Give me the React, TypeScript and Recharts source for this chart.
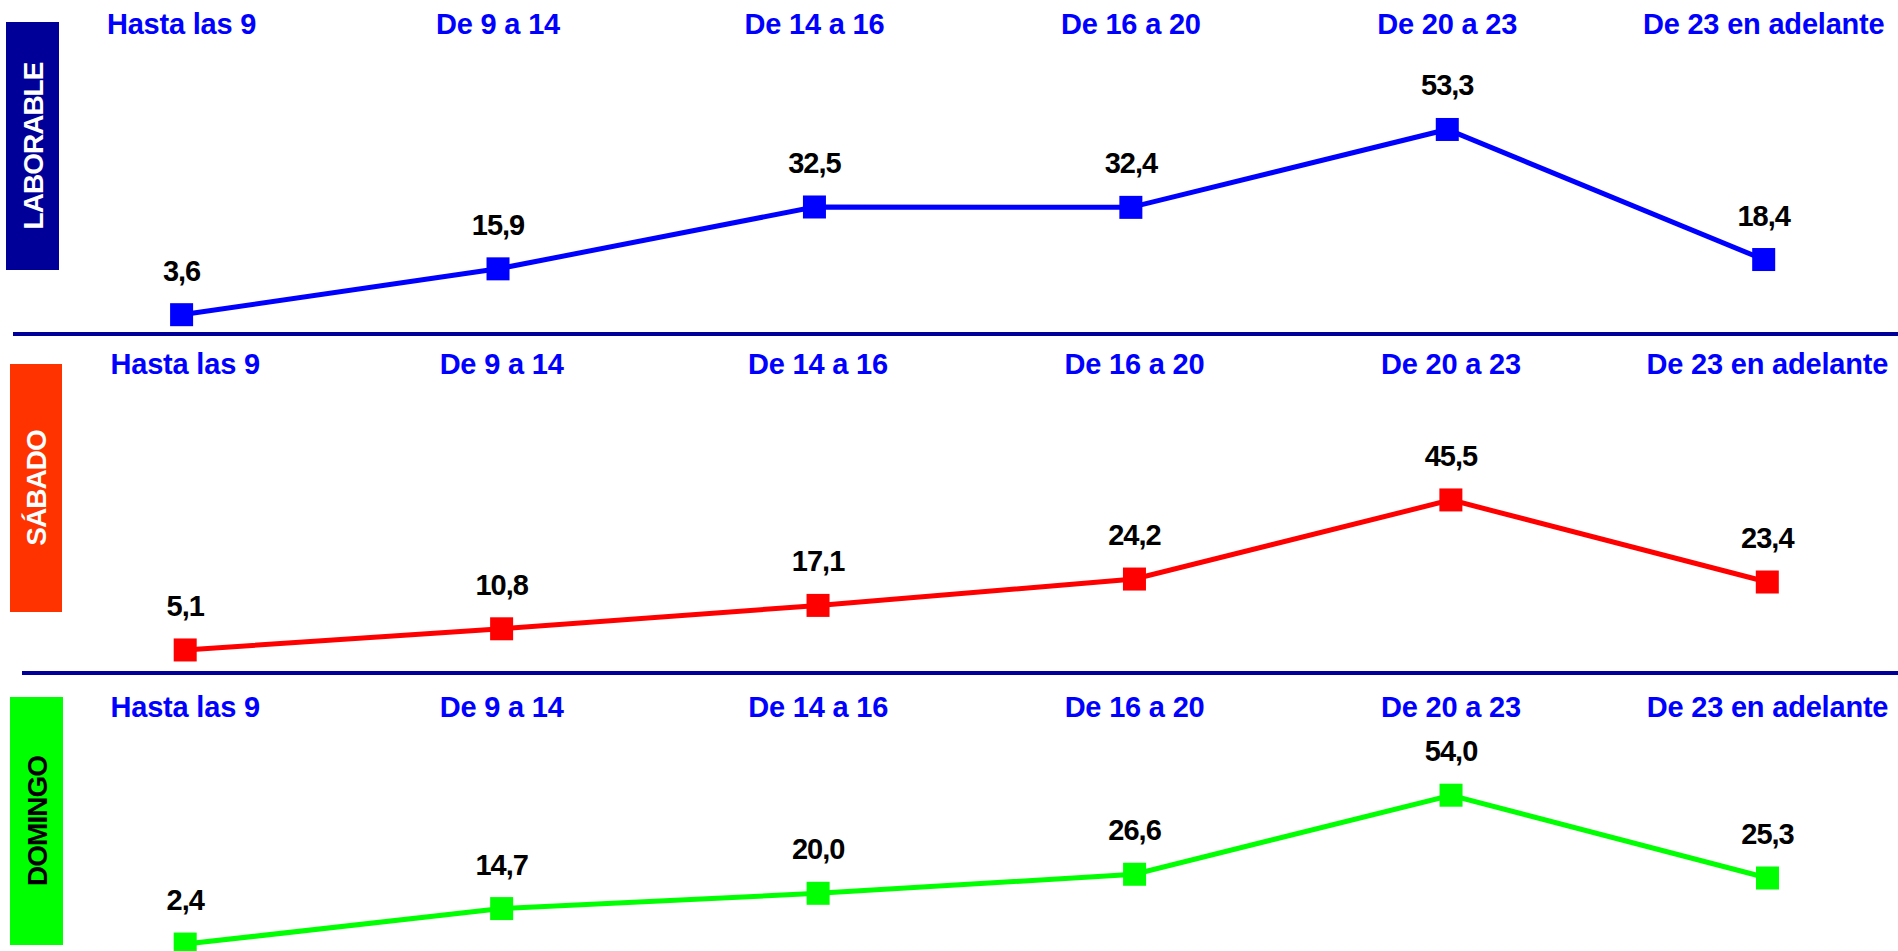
import React from 'react';
import { LineChart, Line, XAxis, YAxis, LabelList } from 'recharts';

const categories = ['Hasta las 9', 'De 9 a 14', 'De 14 a 16', 'De 16 a 20', 'De 20 a 23', 'De 23 en adelante'];
const laborable = [3.6, 15.9, 32.5, 32.4, 53.3, 18.4];
const sabado = [5.1, 10.8, 17.1, 24.2, 45.5, 23.4];
const domingo = [2.4, 14.7, 20.0, 26.6, 54.0, 25.3];

const FONT = '"Liberation Sans", Arial, sans-serif';

const fmt = (v: any) => Number(v).toFixed(1).replace('.', ',');

const CatTick = (props: any) => {
  const { x, y, payload } = props;
  return (
    <text
      x={x}
      y={y}
      textAnchor="middle"
      fill="#0000FF"
      fontSize={29}
      fontWeight="bold"
      letterSpacing={-0.2}
      fontFamily={FONT}
    >
      {payload.value}
    </text>
  );
};

const makeDot = (color: string) => (props: any) => {
  const { cx, cy, index } = props;
  return <rect key={`d-${index}`} x={cx - 11.5} y={cy - 11.5} width={23} height={23} fill={color} />;
};

type PanelProps = {
  values: number[];
  color: string;
  top: number;
  height: number;
  margin: { top: number; bottom: number; left: number; right: number };
  tickMargin: number;
};

const Panel = ({ values, color, top, height, margin, tickMargin }: PanelProps) => {
  const data = categories.map((c, i) => ({ cat: c, v: values[i] }));
  return (
    <div style={{ position: 'absolute', left: 0, top, width: 1898, height }}>
      <LineChart width={1898} height={height} data={data} margin={margin} style={{ overflow: 'visible' }}>
        <XAxis
          dataKey="cat"
          orientation="top"
          height={80}
          scale="point"
          padding={{ left: 0, right: 0 }}
          axisLine={false}
          tickLine={false}
          tickSize={0}
          tickMargin={tickMargin}
          interval={0}
          tick={<CatTick />}
        />
        <YAxis hide domain={[0, 60]} />
        <Line
          dataKey="v"
          type="linear"
          stroke={color}
          strokeWidth={5}
          dot={makeDot(color)}
          activeDot={false}
          isAnimationActive={false}
        >
          <LabelList
            dataKey="v"
            position="top"
            offset={34}
            formatter={fmt}
            fill="#000000"
            fontSize={29}
            fontWeight="bold"
            letterSpacing={-1}
            fontFamily={FONT}
          />
        </Line>
      </LineChart>
    </div>
  );
};

const boxes = [
  { label: 'LABORABLE', x: 6, y: 22, w: 53, h: 248, bg: '#000099', fg: '#FFFFFF' },
  { label: 'SÁBADO', x: 10, y: 364, w: 52, h: 248, bg: '#FF3300', fg: '#FFFFFF' },
  { label: 'DOMINGO', x: 10, y: 697, w: 53, h: 248, bg: '#00FF00', fg: '#000000' },
];

export default function App() {
  return (
    <div
      style={{
        position: 'absolute',
        left: 0,
        top: 0,
        width: 1898,
        height: 951,
        overflow: 'hidden',
        background: '#FFFFFF',
        fontFamily: FONT,
      }}
    >
      <Panel
        values={laborable}
        color="#0000FF"
        top={0}
        height={334}
        margin={{ top: 24.5, bottom: 5.9, left: 181.6, right: 134.3 }}
        tickMargin={70.5}
      />
      <Panel
        values={sabado}
        color="#FF0000"
        top={334}
        height={339}
        margin={{ top: 32.1, bottom: 4.1, left: 185.2, right: 130.7 }}
        tickMargin={72.1}
      />
      <Panel
        values={domingo}
        color="#00FF00"
        top={673}
        height={278}
        margin={{ top: 24.9, bottom: 0, left: 185.2, right: 130.5 }}
        tickMargin={60.9}
      />
      <svg width={1898} height={951} style={{ position: 'absolute', left: 0, top: 0, pointerEvents: 'none' }}>
        <line x1={13} x2={1898} y1={334} y2={334} stroke="#000099" strokeWidth={4} />
        <line x1={22} x2={1898} y1={673} y2={673} stroke="#000099" strokeWidth={4} />
        {boxes.map((b) => (
          <g key={b.label}>
            <rect x={b.x} y={b.y} width={b.w} height={b.h} fill={b.bg} />
            <text
              transform={`translate(${b.x + b.w / 2 + 10}, ${b.y + b.h / 2}) rotate(-90)`}
              textAnchor="middle"
              fill={b.fg}
              fontSize={28}
              fontWeight="bold"
              letterSpacing={-1}
              fontFamily={FONT}
            >
              {b.label}
            </text>
          </g>
        ))}
      </svg>
    </div>
  );
}
